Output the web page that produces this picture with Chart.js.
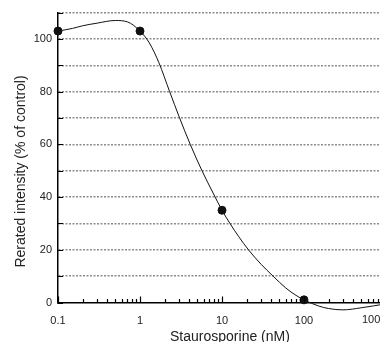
<!DOCTYPE html>
<html>
<head>
<meta charset="utf-8">
<script src="https://cdn.jsdelivr.net/npm/chart.js@4/dist/chart.umd.min.js"></script>
<style>
html,body{margin:0;padding:0;background:#fff;overflow:hidden;}
#wrap{position:relative;width:391px;height:350px;}
</style>
</head>
<body>
<div id="wrap"><canvas id="c"></canvas></div>
<script>
// measured points
const doseNM = [0.1, 1, 10, 100];
const intensity = [103, 103, 35, 1];
// fitted curve
const curveDose = [0.1, 0.15, 0.2, 0.3, 0.5, 0.7, 1, 1.3, 1.7, 2.3, 3, 4.1, 5.7, 7.8, 10, 12.5, 16, 21, 30, 42, 60, 80, 100, 150, 200, 300, 500, 1000];
const curveVal  = [103, 104, 105, 106, 107, 106.5, 103, 98.5, 91, 80, 70.5, 60, 50, 41.5, 35, 30, 25, 20, 14.5, 10, 5.5, 2.7, 1, -1.3, -2.3, -2.8, -2, -0.5];
// axis ticks
const xDecades = [0.1, 1, 10, 100, 1000];
const xDecadeLabels = ['0.1', '1', '10', '100', '1000'];
const yTicks = [0, 10, 20, 30, 40, 50, 60, 70, 80, 90, 100, 110];
const yLabelled = [0, 20, 40, 60, 80, 100];
const xTitle = 'Staurosporine (nM)';
const yTitle = 'Rerated intensity (% of control)';

const FONT = "'Liberation Sans', Arial, sans-serif";

const inwardTicks = {
  id: 'inwardTicks',
  afterDatasetsDraw(chart) {
    const {ctx, chartArea, scales} = chart;
    ctx.save();
    ctx.strokeStyle = '#000';
    ctx.lineWidth = 1.2;
    ctx.beginPath();
    yTicks.forEach(v => {
      const y = Math.round(scales.y.getPixelForValue(v)) + 0.5;
      ctx.moveTo(chartArea.left, y);
      ctx.lineTo(chartArea.left + 5, y);
    });
    scales.x.ticks.forEach(t => {
      const x = Math.round(scales.x.getPixelForValue(t.value)) + 0.5;
      const major = xDecades.includes(t.value);
      ctx.moveTo(x, chartArea.bottom);
      ctx.lineTo(x, chartArea.bottom - (major ? 6 : 3.5));
    });
    ctx.stroke();
    // last decade label, shifted left as in the original
    ctx.fillStyle = '#222';
    ctx.font = '11px ' + FONT;
    ctx.textAlign = 'left';
    ctx.textBaseline = 'middle';
    const lastLbl = xDecadeLabels[xDecadeLabels.length - 1];
    const lastX = scales.x.getPixelForValue(xDecades[xDecades.length - 1]);
    ctx.fillText(lastLbl, lastX - 24, 319.5);
    // axis titles
    ctx.font = '14px ' + FONT;
    ctx.textAlign = 'center';
    ctx.fillText(xTitle, scales.x.getPixelForValue(12.5), 337);
    ctx.translate(21, 171.5);
    ctx.rotate(-Math.PI / 2);
    ctx.fillText(yTitle, 0, 0);
    ctx.restore();
  }
};

const minorX = [];
for (let d = 0; d < 4; d++) {
  const base = xDecades[d];
  for (let k = 1; k <= 9; k++) minorX.push(+(base * k).toPrecision(3));
}
minorX.push(1000);

new Chart(document.getElementById('c'), {
  type: 'scatter',
  data: {
    datasets: [
      {
        type: 'line',
        data: curveDose.map((x, i) => ({x, y: curveVal[i]})),
        borderColor: '#111',
        borderWidth: 1,
        pointRadius: 0,
        cubicInterpolationMode: 'monotone',
        fill: false,
        clip: false
      },
      {
        data: doseNM.map((x, i) => ({x, y: intensity[i]})),
        backgroundColor: '#111',
        borderColor: '#111',
        pointRadius: 4,
        clip: false
      }
    ]
  },
  options: {
    responsive: true,
    maintainAspectRatio: false,
    animation: false,
    layout: {padding: {top: 3, right: 0, left: 0, bottom: 0}},
    plugins: {legend: {display: false}, tooltip: {enabled: false}},
    scales: {
      x: {
        type: 'logarithmic',
        min: 0.1, max: 1000,
        afterBuildTicks: s => { s.ticks = minorX.map(v => ({value: v})); },
        afterFit: s => { s.height = 47.5; },
        grid: {display: false},
        border: {display: true, color: '#000', width: 1.5},
        ticks: {
          autoSkip: false, maxRotation: 0, padding: 4,
          color: '#222', font: {family: FONT, size: 11},
          callback: (v) => { const i = xDecades.indexOf(v); return (i >= 0 && i < xDecades.length - 1) ? xDecadeLabels[i] : ''; }
        }
      },
      y: {
        min: 0, max: 110,
        afterBuildTicks: s => { s.ticks = yTicks.map(v => ({value: v})); },
        afterFit: s => { s.width = 58; },
        grid: {
          drawTicks: false,
          color: c => (c.tick && c.tick.value === 0) ? 'rgba(0,0,0,0)' : '#8c8c8c',
          lineWidth: 1.5
        },
        border: {display: true, color: '#000', width: 1.5, dash: [2, 1.5]},
        ticks: {
          padding: 6, color: '#222', font: {family: FONT, size: 11},
          callback: v => yLabelled.includes(v) ? String(v) : ''
        }
      }
    }
  },
  plugins: [inwardTicks]
});
</script>
</body>
</html>
